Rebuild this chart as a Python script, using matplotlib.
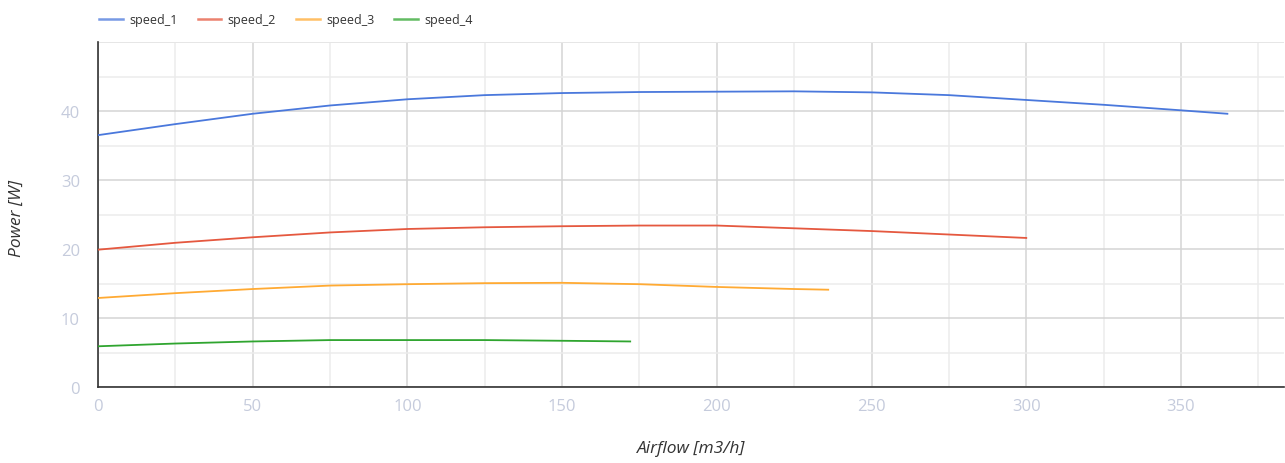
import matplotlib
matplotlib.use("Agg")
import matplotlib.pyplot as plt
from matplotlib.ticker import MultipleLocator

plt.rcParams['font.family'] = ['Open Sans', 'DejaVu Sans']

series_names = ["speed_1", "speed_2", "speed_3", "speed_4"]
colors = ["#4a78dc", "#e5583f", "#ffaa33", "#2fa52f"]

x_speed_1 = [0, 25, 50, 75, 100, 125, 150, 175, 200, 225, 250, 275, 300, 325, 350, 365]
y_speed_1 = [36.5, 38.1, 39.6, 40.8, 41.7, 42.3, 42.6, 42.75, 42.8, 42.85, 42.7, 42.3, 41.6, 40.9, 40.1, 39.6]

x_speed_2 = [0, 25, 50, 75, 100, 125, 150, 175, 200, 225, 250, 275, 300]
y_speed_2 = [19.9, 20.9, 21.7, 22.4, 22.9, 23.15, 23.3, 23.4, 23.4, 23.0, 22.6, 22.1, 21.6]

x_speed_3 = [0, 25, 50, 75, 100, 125, 150, 175, 200, 225, 236]
y_speed_3 = [12.9, 13.6, 14.2, 14.7, 14.9, 15.05, 15.1, 14.9, 14.5, 14.2, 14.1]

x_speed_4 = [0, 25, 50, 75, 100, 125, 150, 172]
y_speed_4 = [5.9, 6.3, 6.6, 6.8, 6.8, 6.8, 6.7, 6.6]

xs = [x_speed_1, x_speed_2, x_speed_3, x_speed_4]
ys = [y_speed_1, y_speed_2, y_speed_3, y_speed_4]

fig = plt.figure(figsize=(12.85, 4.64), dpi=100)
ax = fig.add_axes([98/1285, 1-388/464, (1284-98)/1285, (388-43)/464])

for name, c, x, y in zip(series_names, colors, xs, ys):
    ax.plot(x, y, color=c, lw=1.3, label=name, zorder=3)

ax.set_xlim(0, 383.3)
ax.set_ylim(0, 50)
ax.xaxis.set_minor_locator(MultipleLocator(25))
ax.yaxis.set_minor_locator(MultipleLocator(5))
ax.set_yticks([0, 10, 20, 30, 40])
ax.set_xticks([0, 50, 100, 150, 200, 250, 300, 350])

ax.grid(which='major', color='#d4d4d4', lw=1.1)
ax.grid(which='minor', color='#ececec', lw=1.1)
ax.axhline(50, color='#e6e6e6', lw=1.3, zorder=1)
ax.set_axisbelow(True)

for s in ['top', 'right']:
    ax.spines[s].set_visible(False)
ax.spines['left'].set_color('#333333')
ax.spines['bottom'].set_color('#333333')
ax.spines['left'].set_linewidth(1.2)
ax.spines['bottom'].set_linewidth(1.2)

ax.tick_params(which='both', length=0)
ax.tick_params(axis='y', pad=13, labelsize=12, labelcolor='#c5cbdc')
ax.tick_params(axis='x', pad=8, labelsize=12, labelcolor='#c5cbdc')

fig.text(17/1285, 1-218/464, "Power [W]", rotation=90, ha='center', va='center',
         fontsize=12.5, style='italic', color='#333333')
fig.text(691/1285, 1-449/464, "Airflow [m3/h]", ha='center', va='center',
         fontsize=12.5, style='italic', color='#333333')

leg = fig.legend(loc='upper left', bbox_to_anchor=(88/1285, 1-3/464), ncol=4,
                 frameon=False, fontsize=9, handlelength=1.9, handletextpad=0.5,
                 columnspacing=1.6, labelcolor='#333333')
for lh in leg.get_lines():
    lh.set_linewidth(1.8)
    lh.set_alpha(0.75)

fig.savefig("out.png", dpi=100)
